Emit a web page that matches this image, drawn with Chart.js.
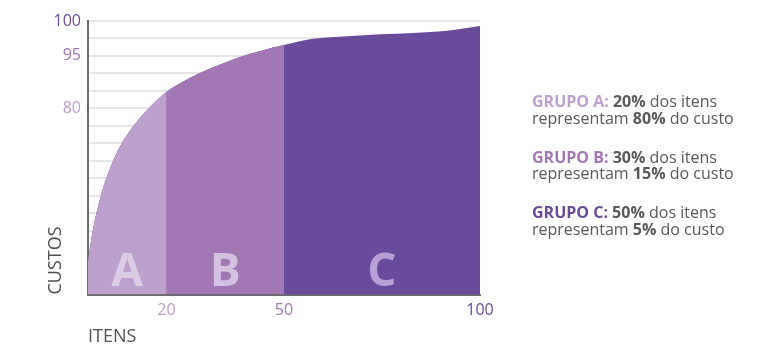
<!DOCTYPE html>
<html>
<head>
<meta charset="utf-8">
<script src="https://cdn.jsdelivr.net/npm/chart.js@4"></script>
<style>
    body { margin: 0; background: #fff; font-family: 'Open Sans', sans-serif; }
    #wrap { position: relative; width: 768px; height: 356px; }
    #abc { position: absolute; left: 0; top: 0; }
    #legend { position: absolute; left: 532px; top: 93px; font-size: 16px; line-height: 16.7px; color: #595959; }
    #legend .grp { margin-bottom: 22.3px; white-space: nowrap; }
    #legend b { font-weight: 700; }
</style>
</head>
<body>
<div id="wrap">
    <canvas id="abc" width="768" height="356"></canvas>
    <div id="legend"></div>
</div>
<script>
// Curva ABC (eixo X = % dos itens, eixo Y = linhas da grade)
const curveX = [0, 0.7, 1.5, 3.2, 4.9, 7.5, 11.7, 16, 20, 25, 30.3, 38.8, 47.2, 50, 57.4, 66.1, 74.5, 82.9, 91.6, 100];
const curveY = [2.2, 3.29, 4.32, 5.92, 7.12, 8.53, 10.01, 11.1, 11.93, 12.62, 13.19, 13.94, 14.48, 14.63, 14.98, 15.13, 15.24, 15.31, 15.44, 15.71];

// Grupos e limites
const groupNames = ['A', 'B', 'C'];
const groupBounds = [0, 20, 50, 100];
const itemShare = ['20%', '30%', '50%'];
const costShare = ['80%', '15%', '5%'];

// Rótulos dos eixos
const xTicks = [20, 50, 100];
const yTickLabels = ['80', '95', '100'];
const yTickAt = [11, 14, 16];
const yGridMax = 16;
const yMin = 0.34;

// Cores (claro -> escuro)
const fillColors = ['#bea0ce', '#a377b4', '#6a4a9b'];
const letterColors = ['#dccbe6', '#d5c0e1', '#b7a0d5'];
const textGray = '#595959';

// Cada grupo cobre a curva do início até o seu limite direito
// (o grupo anterior é desenhado por cima, assim não fica emenda branca)
function groupData(i) {
    const hi = groupBounds[i + 1];
    const pts = [];
    curveX.forEach((x, k) => {
        if (x <= hi) pts.push({ x: x, y: curveY[k] });
    });
    return pts;
}

// Letras A, B, C dentro das áreas
const lettersPlugin = {
    id: 'letters',
    afterDatasetsDraw(chart) {
        const ctx = chart.ctx;
        const xs = chart.scales.x;
        ctx.save();
        ctx.font = "700 46px 'Open Sans', sans-serif";
        ctx.textAlign = 'center';
        ctx.textBaseline = 'alphabetic';
        groupNames.forEach((g, i) => {
            const mid = (groupBounds[i] + groupBounds[i + 1]) / 2;
            ctx.fillStyle = letterColors[i];
            ctx.fillText(g, xs.getPixelForValue(mid), chart.chartArea.bottom - 9);
        });
        ctx.restore();
    }
};

Chart.defaults.font.family = "'Open Sans', sans-serif";

new Chart(document.getElementById('abc'), {
    type: 'line',
    data: {
        datasets: groupNames.map((g, i) => ({
            label: 'Grupo ' + g,
            data: groupData(i),
            backgroundColor: fillColors[i],
            borderWidth: 0,
            pointRadius: 0,
            fill: 'start',
            cubicInterpolationMode: 'monotone'
        }))
    },
    options: {
        responsive: false,
        animation: false,
        layout: { padding: { top: 21, right: 288, left: 0, bottom: 0 } },
        plugins: { legend: { display: false }, tooltip: { enabled: false } },
        scales: {
            x: {
                type: 'linear',
                min: 0,
                max: 100,
                grid: { display: false, drawTicks: false },
                border: { display: true, color: '#6b6b6b', width: 2 },
                afterBuildTicks: (s) => { s.ticks = xTicks.map(v => ({ value: v })); },
                afterFit: (s) => { s.height = 61.5; },
                ticks: {
                    autoSkip: false,
                    padding: 6,
                    font: { size: 16 },
                    color: (c) => fillColors[xTicks.indexOf(c.tick.value)] || textGray,
                    callback: (v) => String(v)
                },
                title: {
                    display: true,
                    text: 'ITENS',
                    align: 'start',
                    color: '#505050',
                    font: { size: 18 },
                    padding: { top: 0, bottom: 8 }
                }
            },
            y: {
                type: 'linear',
                min: yMin,
                max: yGridMax,
                grid: { color: '#e6e6e6', lineWidth: 2, drawTicks: false },
                border: { display: true, color: '#6b6b6b', width: 2 },
                afterBuildTicks: (s) => {
                    const t = [];
                    for (let v = 1; v <= yGridMax; v++) t.push({ value: v });
                    s.ticks = t;
                },
                afterFit: (s) => { s.width = 88; },
                ticks: {
                    autoSkip: false,
                    padding: 7,
                    font: { size: 16 },
                    color: (c) => fillColors[yTickAt.indexOf(c.tick.value)] || textGray,
                    callback: (v) => {
                        const k = yTickAt.indexOf(v);
                        return k >= 0 ? yTickLabels[k] : '';
                    }
                },
                title: {
                    display: true,
                    text: 'CUSTOS',
                    align: 'start',
                    color: '#505050',
                    font: { size: 18 },
                    padding: { top: 45, bottom: 0 }
                }
            }
        }
    },
    plugins: [lettersPlugin]
});

// Legenda à direita
const legend = document.getElementById('legend');
groupNames.forEach((g, i) => {
    const div = document.createElement('div');
    div.className = 'grp';
    div.innerHTML = '<b style="color:' + fillColors[i] + '">GRUPO ' + g + ':</b> <b>' + itemShare[i] +
        '</b> dos itens<br>representam <b>' + costShare[i] + '</b> do custo';
    legend.appendChild(div);
});
</script>
</body>
</html>
